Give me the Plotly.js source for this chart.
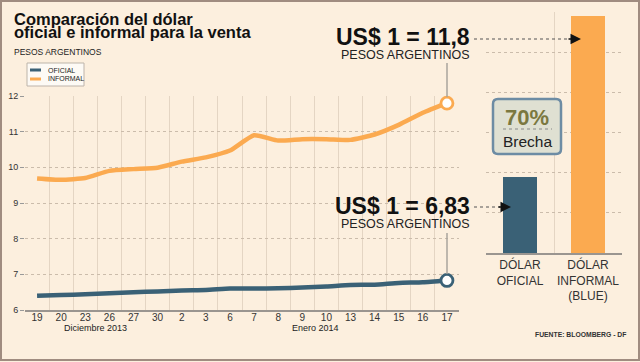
<!DOCTYPE html>
<html><head><meta charset="utf-8">
<script src="https://cdn.plot.ly/plotly-3.0.1.min.js"></script>
<style>html,body{margin:0;padding:0;background:#fcefde;}#c{width:640px;height:362px;}</style>
</head><body><div id="c"></div>
<script>
const dates = ['19','20','23','26','27','30','2','3','6','7','8','9','10','13','14','15','16','17'];
const informal = [9.69, 9.65, 9.70, 9.90, 9.95, 9.99, 10.16, 10.28, 10.47, 10.90, 10.75, 10.79, 10.79, 10.77, 10.92, 11.19, 11.53, 11.80];
const oficial = [6.40, 6.42, 6.44, 6.47, 6.50, 6.52, 6.55, 6.56, 6.60, 6.60, 6.61, 6.63, 6.66, 6.70, 6.71, 6.76, 6.78, 6.83];
const barLabels = ['DÓLAR<br>OFICIAL', 'DÓLAR<br>INFORMAL<br>(BLUE)'];
const seriesNames = ['OFICIAL', 'INFORMAL'];
const brecha = '70%';

const cOf = '#3a6176', cInf = '#fbaa50';
const F = "'Liberation Sans', Arial, sans-serif";
const W = 640, H = 362;
const px = x => x / W, py = y => 1 - y / H;
const last = a => a[a.length - 1];
const fmt = v => String(v).replace('.', ',');

const traces = [
  {x: dates, y: oficial, type: 'scatter', mode: 'lines', line: {color: cOf, width: 4.5, shape: 'spline', smoothing: 0.5}, xaxis: 'x', yaxis: 'y', hoverinfo: 'skip'},
  {x: dates, y: informal, type: 'scatter', mode: 'lines', line: {color: cInf, width: 4.5, shape: 'spline', smoothing: 0.5}, xaxis: 'x', yaxis: 'y', hoverinfo: 'skip'},
  {x: [last(dates)], y: [last(oficial)], type: 'scatter', mode: 'markers', marker: {size: 12, color: '#ffffff', line: {color: cOf, width: 2.8}}, xaxis: 'x', yaxis: 'y', cliponaxis: false},
  {x: [last(dates)], y: [last(informal)], type: 'scatter', mode: 'markers', marker: {size: 12, color: '#ffffff', line: {color: cInf, width: 2.8}}, xaxis: 'x', yaxis: 'y', cliponaxis: false},
  {x: barLabels, y: [last(oficial), last(informal)], type: 'bar', marker: {color: [cOf, cInf]}, xaxis: 'x2', yaxis: 'y2', width: 0.5}
];

const shapes = [
  {type: 'rect', xref: 'paper', yref: 'paper', x0: px(1), x1: px(639), y0: py(1), y1: py(360), line: {color: '#a08c80', width: 2}},
  {type: 'rect', xref: 'paper', yref: 'paper', x0: px(27), x1: px(84), y0: py(63), y1: py(86), fillcolor: '#fdfaf5', line: {color: '#bdb4aa', width: 1}},
  {type: 'line', xref: 'paper', yref: 'paper', x0: px(30), x1: px(41), y0: py(70), y1: py(70), line: {color: cOf, width: 3}},
  {type: 'line', xref: 'paper', yref: 'paper', x0: px(30), x1: px(41), y0: py(79), y1: py(79), line: {color: cInf, width: 3}},
  {type: 'line', xref: 'paper', yref: 'paper', x0: px(447), x1: px(447), y0: py(63), y1: py(97), line: {color: '#aaa49d', width: 1.5}},
  {type: 'line', xref: 'paper', yref: 'paper', x0: px(447), x1: px(447), y0: py(233), y1: py(274), line: {color: '#aaa49d', width: 1.5}},
  {type: 'line', xref: 'paper', yref: 'paper', x0: px(474), x1: px(570), y0: py(39), y1: py(39), line: {color: '#555', width: 1.2, dash: 'dot'}},
  {type: 'line', xref: 'paper', yref: 'paper', x0: px(474), x1: px(500), y0: py(207), y1: py(207), line: {color: '#555', width: 1.2, dash: 'dot'}},
  {type: 'path', xref: 'paper', yref: 'paper',
   path: (() => {const x0 = 493, x1 = 561, y0 = 99, y1 = 154, r = 5;
     const P = (x, y) => px(x) + ',' + py(y);
     return 'M' + P(x0 + r, y0) + ' L' + P(x1 - r, y0) + ' Q' + P(x1, y0) + ' ' + P(x1, y0 + r) +
       ' L' + P(x1, y1 - r) + ' Q' + P(x1, y1) + ' ' + P(x1 - r, y1) + ' L' + P(x0 + r, y1) +
       ' Q' + P(x0, y1) + ' ' + P(x0, y1 - r) + ' L' + P(x0, y0 + r) + ' Q' + P(x0, y0) + ' ' + P(x0 + r, y0) + ' Z';})(),
   fillcolor: '#dfe0d2', line: {color: '#6d8ca4', width: 2.5}},
  {type: 'line', xref: 'paper', yref: 'paper', x0: px(503), x1: px(552), y0: py(129), y1: py(129), line: {color: '#888', width: 1, dash: 'dot'}}
];

const ann = (text, x, y, size, opts) => Object.assign({text, xref: 'paper', yref: 'paper', x: px(x), y: py(y), showarrow: false,
  xanchor: 'left', yanchor: 'middle', borderpad: 0, font: {family: F, size, color: '#222'}}, opts || {});

const annotations = [
  ann('<b>Comparación del dólar</b>', 13, 19, 16.5, {font: {family: F, size: 16.5, color: '#111'}}),
  ann('<b>oficial e informal para la venta</b>', 13, 31.5, 16.5, {font: {family: F, size: 16.5, color: '#111'}}),
  ann('PESOS ARGENTINOS', 13, 52, 8.5),
  ann(seriesNames[0], 47, 70, 7),
  ann(seriesNames[1], 47, 79, 7),
  ann('Diciembre 2013', 95, 328, 9, {xanchor: 'center'}),
  ann('Enero 2014', 315, 328, 9, {xanchor: 'center'}),
  ann('<b>US$ 1 = ' + fmt(last(informal)) + '</b>', 471, 37.5, 23, {xanchor: 'right', font: {family: F, size: 23, color: '#111'}}),
  ann('PESOS ARGENTINOS', 471, 55, 12.5, {xanchor: 'right'}),
  ann('<b>US$ 1 = ' + fmt(last(oficial)) + '</b>', 471, 206.5, 23, {xanchor: 'right', font: {family: F, size: 23, color: '#111'}}),
  ann('PESOS ARGENTINOS', 471, 224, 12.5, {xanchor: 'right'}),
  ann('<b>' + brecha + '</b>', 527, 118, 22, {xanchor: 'center', font: {family: F, size: 22, color: '#7b7840'}}),
  ann('Brecha', 527, 141, 15.5, {xanchor: 'center'}),
  ann('<b>FUENTE: BLOOMBERG - DF</b>', 627, 334, 6.8, {xanchor: 'right', font: {family: F, size: 6.8, color: '#333'}}),
  {text: '', xref: 'paper', yref: 'paper', x: px(581), y: py(39), showarrow: true, ax: -14, ay: 0, arrowhead: 2, arrowsize: 1.4, arrowwidth: 1.5, arrowcolor: '#111'},
  {text: '', xref: 'paper', yref: 'paper', x: px(511), y: py(207), showarrow: true, ax: -14, ay: 0, arrowhead: 2, arrowsize: 1.4, arrowwidth: 1.5, arrowcolor: '#111'}
];

const layout = {
  width: W, height: H, margin: {l: 0, r: 0, t: 0, b: 0},
  paper_bgcolor: '#fcefde', plot_bgcolor: '#fcefde', showlegend: false,
  font: {family: F, color: '#333'},
  xaxis: {domain: [px(25), px(459)], type: 'category', range: [-0.5, 17.5], tickson: 'boundaries', ticks: '', ticklen: 0,
    ticklabelstandoff: -3, tickangle: 0,
    showgrid: true, gridcolor: '#e4d5c3', gridwidth: 1, showline: true, linecolor: '#9a9590', linewidth: 1.5,
    tickfont: {family: F, size: 10, color: '#333'}, fixedrange: true, anchor: 'y'},
  yaxis: {domain: [py(310), py(96)], range: [6, 12], dtick: 1, tick0: 6, showgrid: true, gridcolor: '#cbbcab', griddash: 'dot',
    ticks: 'outside', ticklen: 4, tickcolor: '#999', tickfont: {family: F, size: 9, color: '#333'}, zeroline: false, showline: false, anchor: 'x'},
  xaxis2: {domain: [px(486), px(622)], type: 'category', tickson: 'boundaries', ticks: '', ticklen: 0, tickangle: 0, showgrid: true, gridcolor: '#e4d5c3',
    showline: true, linecolor: '#9a9590', linewidth: 1.5, tickfont: {family: F, size: 12, color: '#333'}, anchor: 'y2', fixedrange: true},
  yaxis2: {domain: [py(253), py(12)], range: [4.48, 11.92], tick0: 4.48, dtick: 1.24, showticklabels: false, showgrid: true,
    gridcolor: '#cbbcab', griddash: 'dot', zeroline: false, anchor: 'x2'},
  shapes, annotations
};

Plotly.newPlot('c', traces, layout, {displayModeBar: false, staticPlot: true});
</script></body></html>
